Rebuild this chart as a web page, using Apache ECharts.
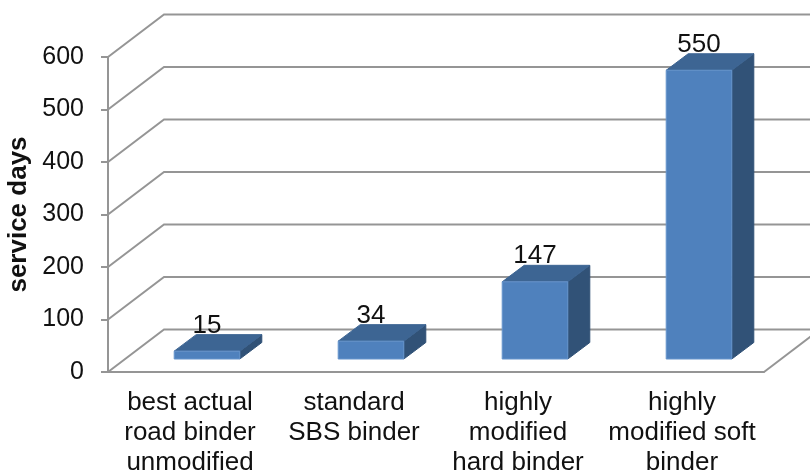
<!DOCTYPE html>
<html>
<head>
<meta charset="utf-8">
<title>service days</title>
<script src="https://cdn.jsdelivr.net/npm/echarts@6/dist/echarts.min.js"></script>
<style>
html, body { margin: 0; padding: 0; background: #fff; }
#chart { width: 810px; height: 472px; }
</style>
</head>
<body>
<div id="chart"></div>
<script>
var categories = ['best actual\nroad binder\nunmodified', 'standard\nSBS binder\n', 'highly\nmodified\nhard binder', 'highly\nmodified soft\nbinder'];
var serviceDays = [15, 34, 147, 550];
var yTicks = [0, 100, 200, 300, 400, 500, 600];

// fake 3d: how far the back wall sits from the axes, and where the bars stand on the floor
var wallDx = 56, wallDy = 42.5;
var barDx = 17, barDy = 13;
var depthDx = 22, depthDy = 16.5;
var lineColor = '#959595';
var fontName = '"Liberation Sans", Arial, sans-serif';

function line(points) {
	return {
		type: 'polyline',
		shape: {points: points},
		style: {stroke: lineColor, lineWidth: 2, fill: null}
	};
}

function renderWall(params, api) {
	var rect = params.coordSys;
	var y = api.coord([0, api.value(1)])[1];
	var children = [line([
		[rect.x, y],
		[rect.x + wallDx, y - wallDy],
		[rect.x + rect.width + wallDx, y - wallDy]
	])];
	if (api.value(1) === 0) {
		children.push(line([
			[rect.x + rect.width, y],
			[rect.x + rect.width + wallDx, y - wallDy]
		]));
	}
	return {type: 'group', children: children};
}

function face(points, color, stroke) {
	return {
		type: 'polygon',
		shape: {points: points},
		style: {fill: color, stroke: stroke || color, lineWidth: 1}
	};
}

function renderBar(params, api) {
	var center = api.coord([api.value(0), 0]);
	var top = api.coord([api.value(0), api.value(1)]);
	var w = api.size([1, 0])[0] * 0.4;
	var x0 = center[0] + barDx - w / 2;
	var x1 = x0 + w;
	var y0 = center[1] - barDy;
	var y1 = top[1] - barDy;
	return {
		type: 'group',
		children: [
			face([[x1, y0], [x1 + depthDx, y0 - depthDy], [x1 + depthDx, y1 - depthDy], [x1, y1]], '#315277'),
			face([[x0, y1], [x0 + depthDx, y1 - depthDy], [x1 + depthDx, y1 - depthDy], [x1, y1]], '#3d6593'),
			face([[x0, y0], [x0, y1], [x1, y1], [x1, y0]], '#4f81bd', '#6694cc'),
			{
				type: 'text',
				style: {
					text: String(api.value(1)),
					x: (x0 + x1) / 2,
					y: y1 - depthDy + 4,
					align: 'center',
					verticalAlign: 'bottom',
					fill: '#111',
					font: '26px ' + fontName
				}
			}
		]
	};
}

var myChart = echarts.init(document.getElementById('chart'), null, {renderer: 'canvas'});
myChart.setOption({
	animation: false,
	backgroundColor: '#fff',
	grid: {left: 108, right: 46, top: 57, bottom: 100, outerBoundsMode: 'none'},
	xAxis: {
		type: 'category',
		data: categories,
		axisLine: {lineStyle: {color: lineColor, width: 2}},
		axisTick: {length: 6, lineStyle: {color: lineColor, width: 2}},
		axisLabel: {
			color: '#111',
			fontFamily: fontName,
			fontSize: 26,
			lineHeight: 30,
			margin: 16,
			interval: 0
		}
	},
	yAxis: {
		type: 'value',
		min: 0,
		max: 600,
		interval: 100,
		name: 'service days',
		nameLocation: 'middle',
		nameGap: 75,
		nameTextStyle: {
			color: '#111',
			fontFamily: fontName,
			fontSize: 26,
			fontWeight: 'bold'
		},
		axisLine: {show: true, lineStyle: {color: lineColor, width: 2}},
		axisTick: {show: true, length: 7, lineStyle: {color: lineColor, width: 2}},
		axisLabel: {
			color: '#111',
			fontFamily: fontName,
			fontSize: 25,
			margin: 24,
			padding: [3, 0, 0, 0]
		},
		splitLine: {show: false}
	},
	series: [
		{
			type: 'custom',
			silent: true,
			renderItem: renderWall,
			encode: {x: 0, y: 1},
			data: yTicks.map(function(v) { return [0, v]; }),
			z: 1
		},
		{
			type: 'custom',
			silent: true,
			renderItem: renderBar,
			encode: {x: 0, y: 1},
			data: serviceDays.map(function(v, i) { return [i, v]; }),
			z: 2
		}
	]
});
</script>
</body>
</html>
